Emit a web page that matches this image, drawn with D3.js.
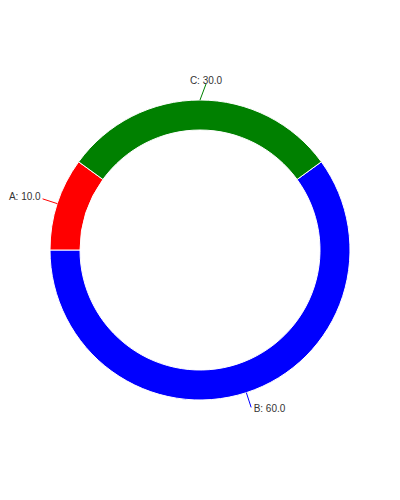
<!DOCTYPE html>
<html>
<head>
<meta charset="utf-8">
<script src="https://cdn.jsdelivr.net/npm/d3@7"></script>
<style>
  html, body { margin: 0; padding: 0; background: #fff; }
  svg { display: block; }
</style>
</head>
<body>
<script>
// Data (drawing order, clockwise from the start angle)
const categories = ["B", "A", "C"];
const values = [60, 10, 30];
const colors = ["#0000ff", "#ff0000", "#008000"];

const width = 400, height = 500;
const cx = 200, cy = 250;
const outerR = 150, innerR = 120;

const svg = d3.select("body").append("svg")
  .attr("width", width).attr("height", height);

const g = svg.append("g").attr("transform", `translate(${cx},${cy})`);

const startA = 0.3 * Math.PI; // 54 degrees
const pie = d3.pie().sort(null).value(d => d.value)
  .startAngle(startA).endAngle(startA + 2 * Math.PI);

const data = categories.map((c, i) => ({ cat: c, value: values[i], color: colors[i] }));
const arcs = pie(data);

const arc = d3.arc().innerRadius(innerR).outerRadius(outerR);

g.selectAll("path.slice").data(arcs).enter().append("path")
  .attr("class", "slice")
  .attr("d", arc)
  .attr("fill", d => d.data.color)
  .attr("stroke", "#fff")
  .attr("stroke-width", 1);

const total = d3.sum(values);
const fmt = d3.format(".1f");

arcs.forEach(d => {
  const a = (d.startAngle + d.endAngle) / 2;
  const s = Math.sin(a), c = Math.cos(a);
  const p0 = [outerR * s, -outerR * c];
  let p1 = [(outerR + 15.5) * s, -(outerR + 15.5) * c];
  let anchor = "middle";
  if (s > 0.15) anchor = "start";
  else if (s < -0.15) anchor = "end";
  if (anchor === "middle") p1 = [p1[0] + 6, p1[1] - 0.5];
  g.append("line")
    .attr("x1", p0[0]).attr("y1", p0[1])
    .attr("x2", p1[0]).attr("y2", p1[1])
    .attr("stroke", d.data.color).attr("stroke-width", 1);
  const tx = p1[0] + (anchor === "start" ? 2.5 : anchor === "end" ? -2 : 0);
  const ty = p1[1] + 2 - 2.3 * c;
  g.append("text")
    .attr("x", tx).attr("y", ty)
    .attr("text-anchor", anchor)
    .attr("font-family", "'Liberation Sans', Arial, sans-serif")
    .attr("font-size", 10)
    .attr("fill", "#333")
    .text(`${d.data.cat}: ${fmt(d.data.value / total * 100)}`);
});
</script>
</body>
</html>
